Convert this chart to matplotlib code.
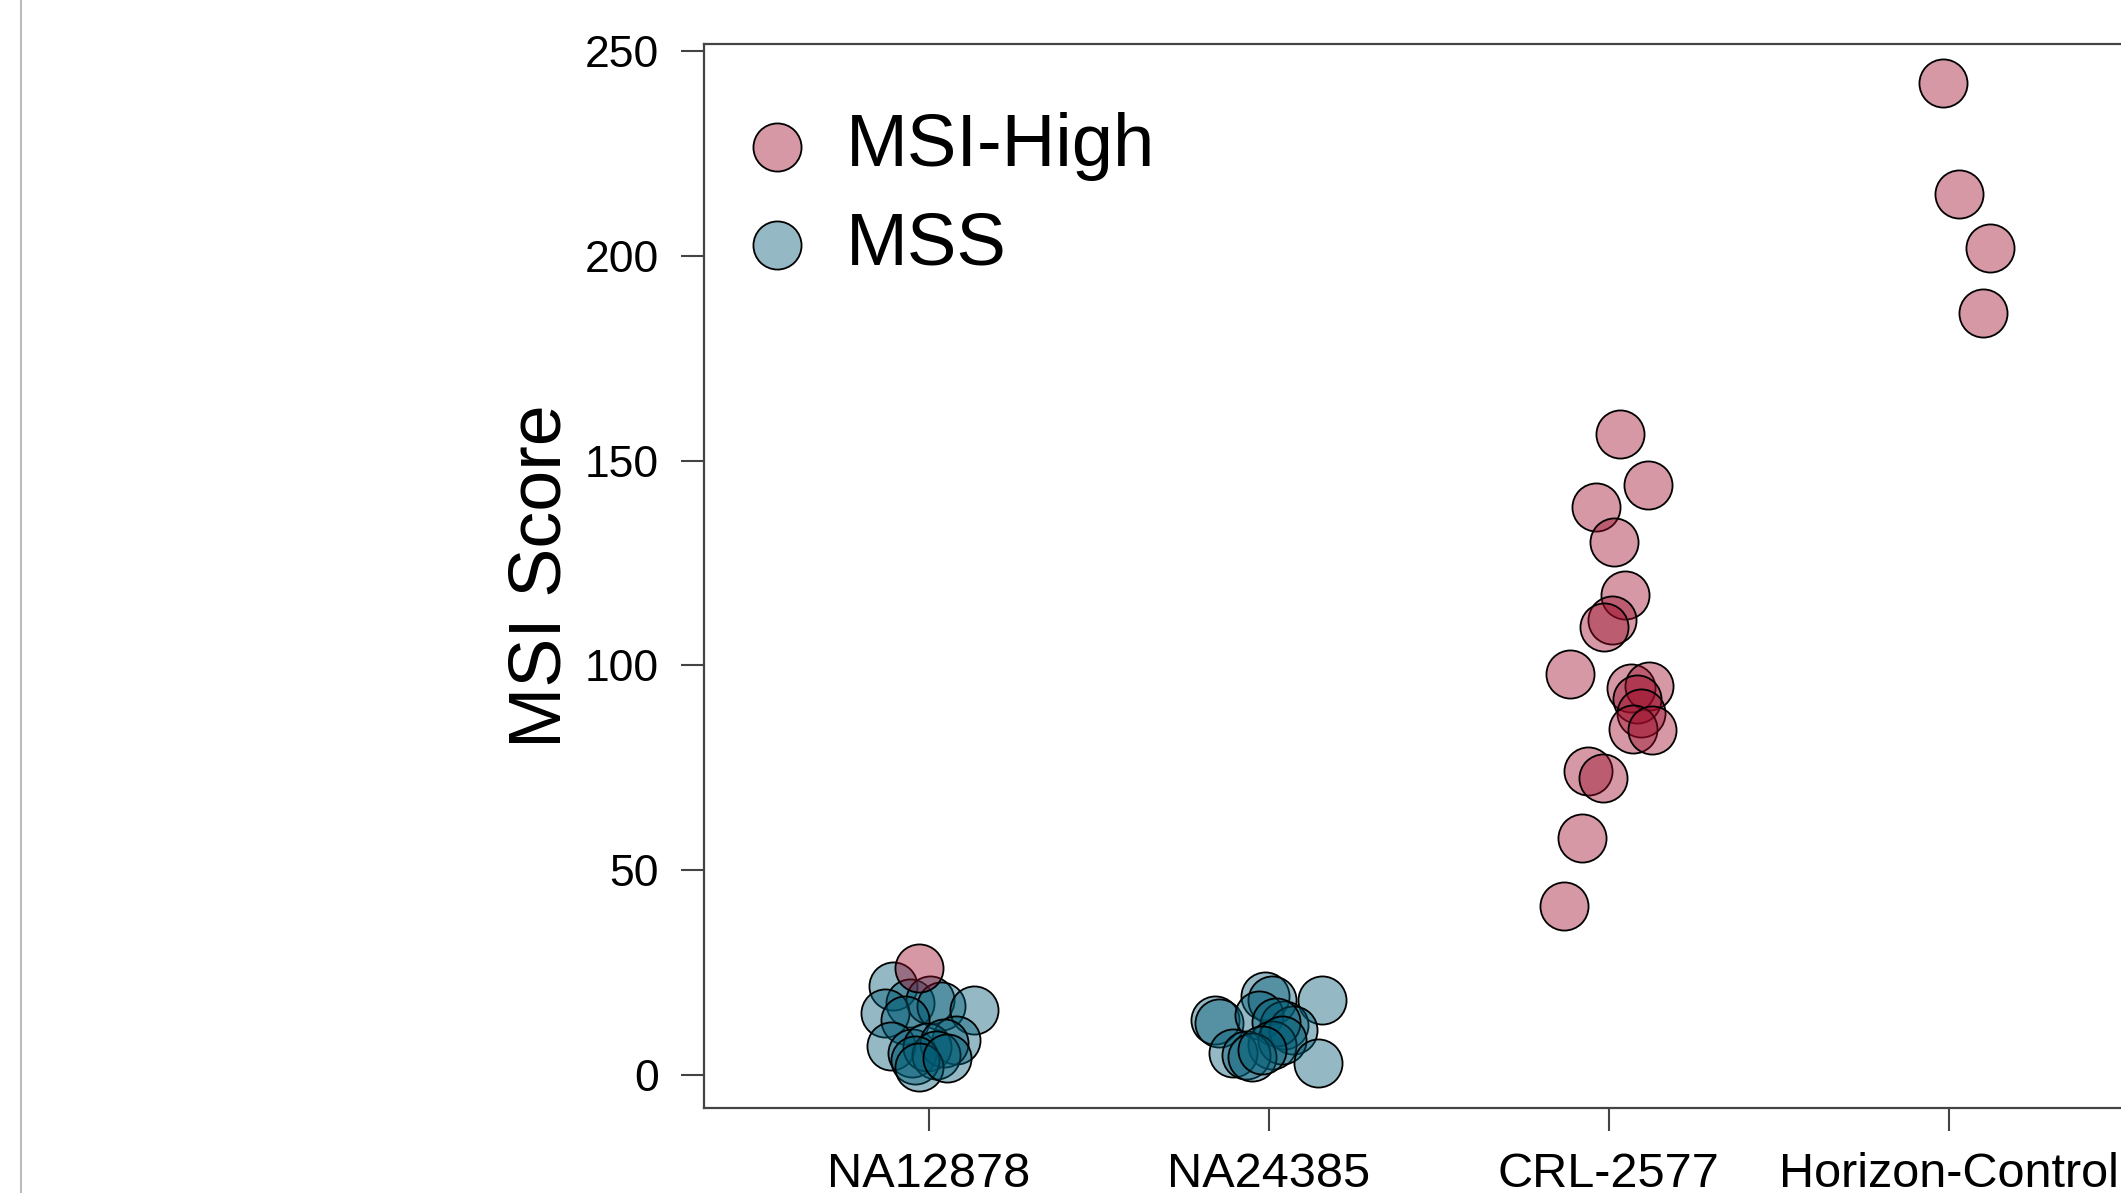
import numpy as np
from matplotlib import pyplot as plt
from matplotlib.lines import Line2D

plt.rcParams['font.family'] = ['Liberation Sans', 'DejaVu Sans']

categories = ['NA12878', 'NA24385', 'CRL-2577', 'Horizon-Control']

# MSS samples: category index, horizontal jitter, score
mss_group = [0] * 16 + [1] * 16
mss_jitter = [-0.105, -0.055, 0.003, 0.035, 0.134, -0.13, -0.07, 0.081,
              -0.11, -0.05, -0.005, 0.045, 0.02, -0.04, -0.03, 0.055,
              -0.012, 0.01, 0.155, -0.159, -0.145, -0.03, 0.045, 0.07,
              0.02, 0.01, 0.04, -0.105, -0.066, -0.05, -0.02, 0.146]
mss_score = [21.7, 17.6, 18.4, 16.8, 16.0, 15.2, 13.5, 8.6,
             7.0, 5.4, 6.8, 7.8, 5.0, 3.6, 2.0, 4.2,
             19.2, 18.4, 18.4, 13.5, 12.8, 14.7, 12.3, 11.1,
             13.0, 7.4, 8.5, 5.4, 5.0, 4.4, 6.0, 2.9]

# MSI-High samples
msih_group = [0] + [2] * 18 + [3] * 4
msih_jitter = [-0.029,
               0.032, 0.114, -0.037, 0.015, 0.048, 0.010, -0.015, -0.115, 0.065,
               0.117, 0.082, 0.095, 0.070, 0.126, -0.062, -0.018, -0.080, -0.131,
               -0.017, 0.030, 0.121, 0.101]
msih_score = [26.1,
              156.5, 144.1, 138.6, 130.2, 117.3, 111.0, 109.5, 98.0, 94.6,
              95.0, 91.8, 88.5, 84.4, 84.3, 74.2, 72.5, 57.9, 41.3,
              242.1, 215.0, 201.9, 186.0]

col_high = (0.608, 0.04, 0.157, 0.42)
col_mss = (0.0, 0.353, 0.45, 0.42)

fig = plt.figure(figsize=(21.21, 11.93), dpi=100)
ax = fig.add_axes([0.3319, 0.0712, 0.6681, 0.8919])

x_mss = np.array(mss_group) + 1 + np.array(mss_jitter)
x_high = np.array(msih_group) + 1 + np.array(msih_jitter)

ax.scatter(x_mss, mss_score, s=1200, facecolor=col_mss, edgecolor='black',
           linewidth=1.3, label='MSS', zorder=3)
ax.scatter(x_high, msih_score, s=1200, facecolor=col_high, edgecolor='black',
           linewidth=1.3, label='MSI-High', zorder=3)

ax.set_xlim(0.339, 4.506)
ax.set_ylim(-8.06, 251.7)
ax.set_xticks(np.arange(1, len(categories) + 1))
ax.set_xticklabels(categories)
ax.set_yticks(np.arange(0, 251, 50))

for side in ['left', 'top', 'bottom']:
    ax.spines[side].set_color('#444444')
    ax.spines[side].set_linewidth(1.6)
ax.spines['right'].set_visible(False)

ax.tick_params(axis='both', length=16.5, width=1.5, color='#444444', pad=16)
ax.tick_params(axis='y', labelsize=32)
ax.tick_params(axis='x', labelsize=35, pad=15)

fig.text(541 / 2121, 1 - 576 / 1193, 'MSI Score', rotation=90,
         fontsize=53, ha='center', va='center')

handles, labels = ax.get_legend_handles_labels()
ax.legend(handles[::-1], labels[::-1], loc='upper left',
          bbox_to_anchor=(0.0254, 0.936), frameon=False, fontsize=53.5,
          borderpad=0, borderaxespad=0, handlelength=1.0,
          handletextpad=0.42, labelspacing=0.4, scatterpoints=1)

# thin grey border line on the left edge
fig.add_artist(Line2D([21 / 2121, 21 / 2121], [0, 1], color='#bbbbbb',
                      linewidth=1.5, transform=fig.transFigure))

fig.savefig('out.png', dpi=100)
